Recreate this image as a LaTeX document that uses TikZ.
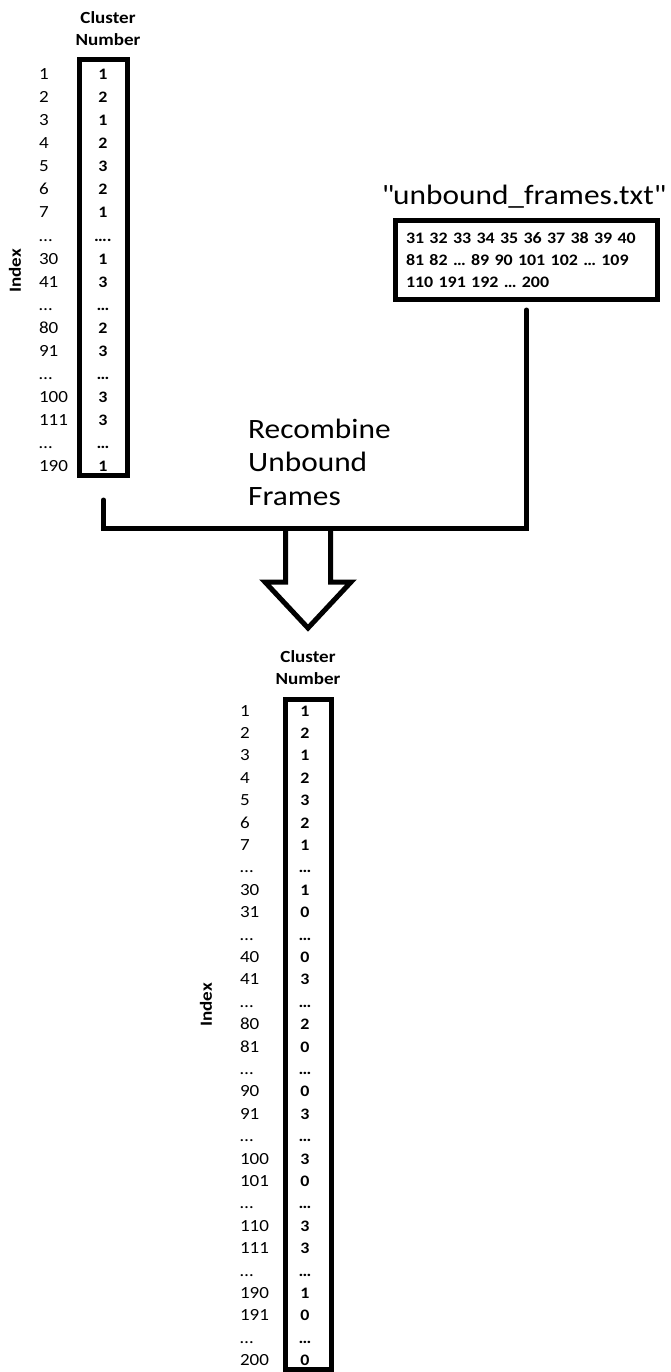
\documentclass[tikz,border=0pt]{standalone}
\usepackage{fontspec}
\setmainfont{Carlito}[FakeStretch=1.12]
\usetikzlibrary{chains,positioning}

\begin{document}
\begin{tikzpicture}[x=1pt,y=-1pt,
  idxcell/.style={text width=30pt,align=left,inner sep=0pt,text height=11pt,text depth=3pt,font=\fontsize{17}{18}\selectfont},
  valcell/.style={inner sep=0pt,text height=11pt,text depth=3pt,font=\bfseries\fontsize{16}{18}\selectfont},
  headtext/.style={align=center,inner sep=0pt,font=\bfseries\fontsize{17}{22}\selectfont},
  idxlabel/.style={rotate=90,inner sep=0pt,font=\bfseries\fontsize{17}{20}\selectfont},
  colbox/.style={draw,line width=5pt,inner sep=0pt},
  bigtext/.style={inner sep=0pt,font=\fontsize{28}{33.5}\selectfont},
  pipe/.style={draw,line width=5pt,line cap=round},
  blockarrow/.style={draw,line width=5pt,line join=miter}
]
\useasboundingbox (0,0) rectangle (671,1372);

% cluster numbers of the bound frames
\node[headtext] (uhead) at (108,29) {Cluster\\Number};
\node[colbox,minimum width=48pt,minimum height=416pt] (ubox) at (103.5,267.5) {};
\node[idxlabel] (uindex) at (15,271) {Index};
\begin{scope}[shift={(54,76)},start chain=going below,node distance=0pt]
\foreach \k/\v [count=\i] in {1/1,2/2,3/1,4/2,5/3,6/2,7/1,\ldots/{\ldots.},30/1,41/3,\ldots/\ldots,80/2,91/3,\ldots/\ldots,100/3,111/3,\ldots/\ldots,190/1} {
    \node[idxcell,minimum height=22.6pt,on chain] (ui\i) {\k};
    \node[valcell] (uv\i) at ([xshift=49pt]ui\i.center) {\v};
}
\end{scope}

% list of unbound frames
\node[bigtext] (ftitle) at (523.5,197) {\textquotedbl unbound\_frames.txt\textquotedbl};
\node[colbox,minimum width=262pt,minimum height=79pt,text width=241pt,inner xsep=10.5pt,align=left,
      font=\bfseries\fontsize{16}{22}\selectfont] (flist) at (526.5,260)
    {31 32 33 34 35 36 37 38 39 40\\81 82 \ldots{} 89 90 101 102 \ldots{} 109\\110 191 192 \ldots{} 200};

% joining both and the big arrow
\node[bigtext,align=left,anchor=west] (mergelbl) at (248,462) {Recombine\\Unbound\\Frames};
\coordinate (joint) at (308,528);
\draw[pipe] ([yshift=-22pt]ubox.south) |- (joint) -| ([yshift=-8pt]flist.south);
\draw[blockarrow] ([xshift=-22.5pt]joint) -- ++(0,54) -- ++(-20.5,0) -- ++(43,46)
    -- ++(43,-46) -- ++(-20.5,0) -- ++(0,-54);

% cluster numbers after recombining
\node[headtext] (lhead) at (308,668) {Cluster\\Number};
\node[colbox,minimum width=46pt,minimum height=670pt] (lbox) at (308.5,1034.5) {};
\node[idxlabel] (lindex) at (206,1005) {Index};
\begin{scope}[shift={(255,712)},start chain=going below,node distance=0pt]
\foreach \k/\v [count=\i] in {1/1,2/2,3/1,4/2,5/3,6/2,7/1,\ldots/\ldots,30/1,31/0,\ldots/\ldots,40/0,41/3,
    \ldots/\ldots,80/2,81/0,\ldots/\ldots,90/0,91/3,\ldots/\ldots,100/3,101/0,\ldots/\ldots,110/3,111/3,
    \ldots/\ldots,190/1,191/0,\ldots/\ldots,200/0} {
    \node[idxcell,minimum height=22pt,on chain] (li\i) {\k};
    \node[valcell] (lv\i) at ([xshift=50pt]li\i.center) {\v};
}
\end{scope}

\end{tikzpicture}
\end{document}
